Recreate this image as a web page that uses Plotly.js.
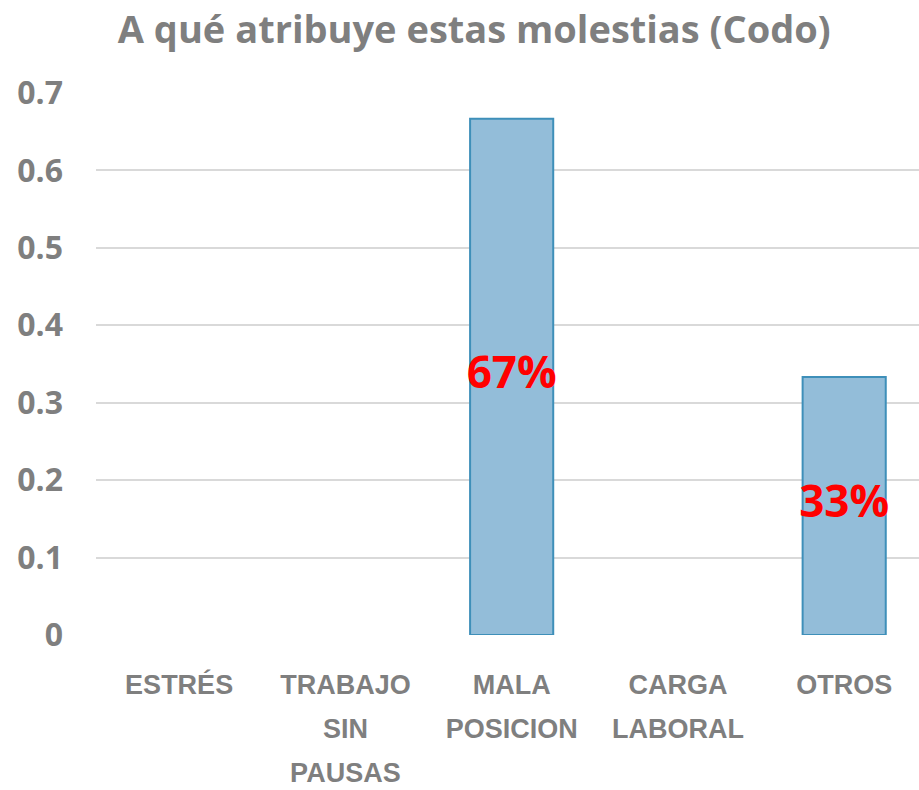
<!DOCTYPE html>
<html>
<head>
<meta charset="utf-8">
<script src="https://cdn.plot.ly/plotly-3.0.1.min.js"></script>
<style>html,body{margin:0;padding:0;background:#fff;}#chart{width:919px;height:790px;}</style>
</head>
<body>
<div id="chart"></div>
<script>
const categories = ["ESTRÉS", "TRABAJO<br>SIN<br>PAUSAS", "MALA<br>POSICION", "CARGA<br>LABORAL", "OTROS"];
const values = [0, 0, 0.6667, 0, 0.3333];
const yTicks = [0, 0.1, 0.2, 0.3, 0.4, 0.5, 0.6, 0.7];
const yTickLabels = ["0", "0.1", "0.2", "0.3", "0.4", "0.5", "0.6", "0.7"];

const gray = "#7f7f7f";
const font = "Open Sans, Liberation Sans, Arial, sans-serif";
const catFont = "Liberation Sans, Arial, sans-serif";

const xIdx = categories.map((c, i) => i);
const tickText = categories.map(c => '<span style="font-size:27px">' + c + '</span>');

const bars = {
  type: "bar",
  x: xIdx,
  y: values,
  width: 0.5,
  marker: {
    color: "#93bdd9",
    line: { color: "#3e8fb9", width: values.map(v => v > 0 ? 2 : 0) }
  },
  hoverinfo: "skip"
};

const labels = {
  type: "scatter",
  mode: "text",
  x: xIdx,
  y: values.map(v => v > 0 ? v / 2 : null),
  text: values.map(v => v > 0 ? Math.round(v * 100) + "%" : ""),
  textposition: "middle center",
  textfont: { family: font, size: 44, color: "#ff0000", weight: 700 },
  cliponaxis: false,
  hoverinfo: "skip"
};

const layout = {
  width: 919,
  height: 790,
  margin: { l: 96, r: 0, t: 93, b: 155 },
  paper_bgcolor: "#ffffff",
  plot_bgcolor: "#ffffff",
  showlegend: false,
  title: {
    text: "A qué atribuye estas molestias (Codo)",
    font: { family: font, size: 38, color: gray, weight: 700 },
    xref: "container", x: 0.516, xanchor: "center",
    yref: "container", y: 0.962, yanchor: "middle"
  },
  xaxis: {
    range: [-0.5, 4.45],
    tickmode: "array",
    tickvals: xIdx,
    ticktext: tickText,
    tickfont: { family: catFont, size: 34, color: gray, weight: 700 },
    showgrid: false,
    zeroline: false,
    showline: false,
    ticks: "",
    ticklabelstandoff: 24,
    fixedrange: true
  },
  yaxis: {
    range: [0, 0.7],
    tickmode: "array",
    tickvals: yTicks,
    ticktext: yTickLabels,
    tickfont: { family: font, size: 32, color: gray, weight: 700 },
    showgrid: true,
    gridcolor: "#d9d9d9",
    gridwidth: 2,
    zeroline: false,
    showline: false,
    ticks: "",
    ticklabelstandoff: 32,
    fixedrange: true
  }
};

Plotly.newPlot("chart", [bars, labels], layout, { displayModeBar: false, staticPlot: true });
</script>
</body>
</html>
